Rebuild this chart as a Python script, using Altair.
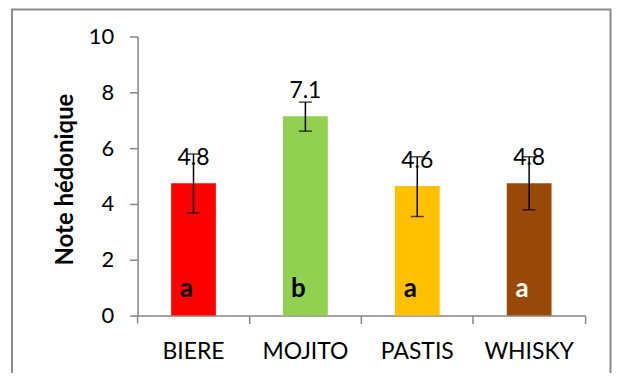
import altair as alt
import pandas as pd

categories = ["BIERE", "MOJITO", "PASTIS", "WHISKY"]
means = [4.74, 7.14, 4.64, 4.74]
value_labels = ["4.8", "7.1", "4.6", "4.8"]
err_low = [3.68, 6.61, 3.55, 3.79]
err_high = [5.79, 7.65, 5.69, 5.69]
letters = ["a", "b", "a", "a"]
letter_colors = ["black", "black", "black", "white"]
bar_colors = ["#FF0000", "#92D050", "#FFC000", "#984807"]

df = pd.DataFrame({
    "cat": categories, "mean": means, "lbl": value_labels,
    "lo": err_low, "hi": err_high, "letter": letters,
    "lcol": letter_colors, "bcol": bar_colors,
})

FONT = "Lato"
AX = "#868686"
x = alt.X("cat:N", sort=categories, title=None,
          scale=alt.Scale(paddingInner=0.6, paddingOuter=0.3),
          axis=alt.Axis(labelAngle=0, labelFont=FONT, labelFontSize=23, labelColor="black",
                        domainColor=AX, domainWidth=1.5, tickColor=AX,
                        tickWidth=1.5, tickSize=8, bandPosition=1.75, labelPadding=17))

base = alt.Chart(df)

border = alt.Chart(pd.DataFrame({"z": [0]})).mark_rect(
    fillOpacity=0, stroke="#8c8c8c", strokeWidth=2
).encode(x=alt.value(-126), x2=alt.value(474.5), y=alt.value(-27), y2=alt.value(420))

first_tick = alt.Chart(pd.DataFrame({"z": [0]})).mark_rule(
    color=AX, strokeWidth=1.5
).encode(x=alt.value(0), y=alt.value(280), y2=alt.value(288))

bars = base.mark_bar().encode(
    x=x,
    y=alt.Y("mean:Q", scale=alt.Scale(domain=[0, 10]), title="Note hédonique",
            axis=alt.Axis(values=[0, 2, 4, 6, 8, 10], grid=False, labelFont=FONT,
                          labelFontSize=22, labelColor="black", domainColor=AX,
                          domainWidth=1.5, tickColor=AX, tickWidth=1.5, tickSize=8,
                          labelPadding=16, titleFont=FONT, titleFontSize=24,
                          titleFontWeight="bold", titleColor="black", titleX=-72, titleY=143,
                          titleAngle=270, titleAlign="center", titleBaseline="middle")),
    color=alt.Color("bcol:N", scale=None),
)

rule = base.mark_rule(color="black", strokeWidth=1.5).encode(
    x=alt.X("cat:N", sort=categories), y="lo:Q", y2="hi:Q")
cap_hi = base.mark_tick(color="black", thickness=1.5, size=13, orient="horizontal").encode(
    x=alt.X("cat:N", sort=categories), y="hi:Q")
cap_lo = base.mark_tick(color="black", thickness=1.5, size=13, orient="horizontal").encode(
    x=alt.X("cat:N", sort=categories), y="lo:Q")

vals = base.mark_text(font=FONT, fontSize=23, color="black", baseline="alphabetic", dy=-18).encode(
    x=alt.X("cat:N", sort=categories), y="mean:Q", text="lbl:N")

lets = base.mark_text(font=FONT, fontSize=26, fontWeight="bold", baseline="alphabetic",
                      dy=-19, dx=-7).encode(
    x=alt.X("cat:N", sort=categories), y=alt.datum(0), text="letter:N",
    color=alt.Color("lcol:N", scale=None))

chart = alt.layer(border, bars, first_tick, rule, cap_hi, cap_lo, vals, lets).properties(
    width=449, height=280,
    padding={"left": 130, "top": 28, "right": 27, "bottom": 57},
    autosize=alt.AutoSizeParams(type="none"),
).configure_view(stroke=None)

chart.save("out.html", embed_options={"renderer": "svg", "actions": False})
